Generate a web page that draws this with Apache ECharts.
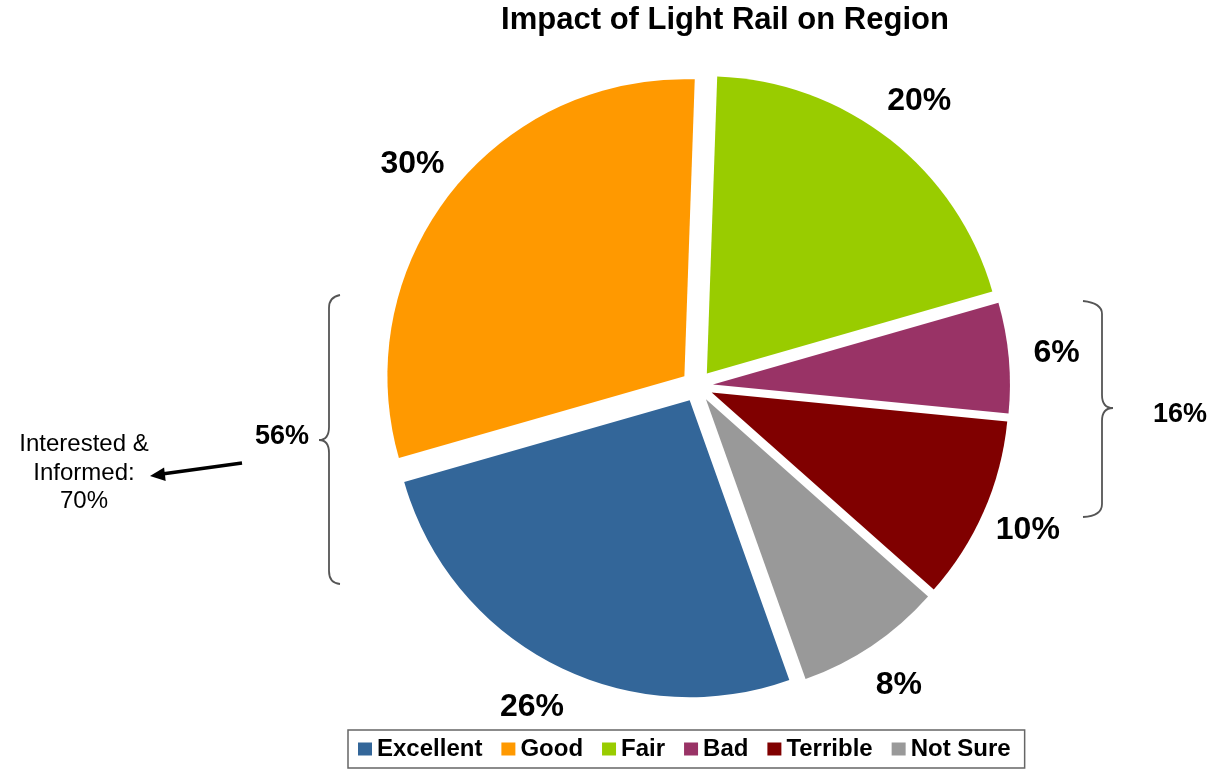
<!DOCTYPE html>
<html>
<head>
<meta charset="utf-8">
<script src="https://cdn.jsdelivr.net/npm/echarts@6/dist/echarts.min.js"></script>
<style>
  html, body { margin: 0; padding: 0; background: #fff; }
  #chart { width: 1218px; height: 770px; }
</style>
</head>
<body>
<div id="chart"></div>
<script>
// ---- data ----
const chartTitle = 'Impact of Light Rail on Region';
const categories = ['Excellent', 'Good', 'Fair', 'Bad', 'Terrible', 'Not Sure'];
const values = [26, 30, 20, 6, 10, 8];
const leftBraceLabel = '56%';
const rightBraceLabel = '16%';
const noteLabel = 'Interested &\nInformed:\n70%';

// ---- styles ----
const colors = ['#336699', '#FF9900', '#99CC00', '#993366', '#800000', '#999999'];
const FONT = "'Liberation Sans', Arial, Helvetica, sans-serif";
const braceColor = '#555555';

function brace(xEnd, xMid, xTip, yTop, yTip, yBot, r) {
  const st = { stroke: braceColor, lineWidth: 1.8, fill: null };
  return [
    { type: 'bezierCurve', shape: { x1: xEnd, y1: yTop, cpx1: xMid, cpy1: yTop + 2, x2: xMid, y2: yTop + r }, style: st },
    { type: 'line', shape: { x1: xMid, y1: yTop + r, x2: xMid, y2: yTip - r }, style: st },
    { type: 'bezierCurve', shape: { x1: xMid, y1: yTip - r, cpx1: xMid, cpy1: yTip, x2: xTip, y2: yTip }, style: st },
    { type: 'bezierCurve', shape: { x1: xTip, y1: yTip, cpx1: xMid, cpy1: yTip, x2: xMid, y2: yTip + r }, style: st },
    { type: 'line', shape: { x1: xMid, y1: yTip + r, x2: xMid, y2: yBot - r }, style: st },
    { type: 'bezierCurve', shape: { x1: xMid, y1: yBot - r, cpx1: xMid, cpy1: yBot - 1, x2: xEnd, y2: yBot }, style: st }
  ];
}

const chart = echarts.init(document.getElementById('chart'), null, { renderer: 'canvas' });

const option = {
  backgroundColor: '#ffffff',
  animation: false,
  title: {
    text: chartTitle,
    left: 720,
    textAlign: 'center',
    top: 0,
    textStyle: { fontFamily: FONT, fontSize: 31, fontWeight: 'bold', color: '#000' }
  },
  legend: {
    data: categories,
    left: 348,
    top: 730,
    orient: 'horizontal',
    icon: 'rect',
    itemWidth: 14,
    itemHeight: 13,
    itemGap: 19,
    selectedMode: false,
    padding: [7, 14, 7, 10],
    borderColor: '#666',
    borderWidth: 1.5,
    textStyle: { fontFamily: FONT, fontSize: 24, fontWeight: 'bold', color: '#000' }
  },
  series: [
    {
      type: 'pie',
      name: 'Impact',
      center: [697, 386],
      radius: 297,
      startAngle: 289.6,
      clockwise: true,
      selectedMode: 'multiple',
      selectedOffset: 16,
      avoidLabelOverlap: false,
      label: { show: false },
      labelLine: { show: false },
      emphasis: { disabled: true },
      itemStyle: { borderWidth: 0 },
      data: categories.map((n, i) => ({ name: n, value: values[i], selected: true, itemStyle: { color: colors[i] } }))
    },
    {
      type: 'pie',
      name: 'labels',
      center: [697, 386],
      radius: [330, 386],
      startAngle: 289.6,
      clockwise: true,
      silent: true,
      selectedMode: false,
      avoidLabelOverlap: false,
      emphasis: { disabled: true },
      itemStyle: { color: 'rgba(0,0,0,0)' },
      labelLine: { show: false },
      label: {
        show: true,
        position: 'inside',
        formatter: '{c}%',
        fontFamily: FONT,
        fontSize: 32,
        fontWeight: 'bold',
        color: '#000'
      },
      data: categories.map((n, i) => ({ name: n, value: values[i] }))
    }
  ],
  graphic: [
    ...brace(340, 329, 319, 295, 440, 584, 13),
    ...brace(1083, 1102, 1113, 301, 408, 517, 13),
    {
      type: 'text', x: 282, y: 437,
      style: { text: leftBraceLabel, fontFamily: FONT, fontSize: 27, fontWeight: 'bold', fill: '#000', align: 'center', verticalAlign: 'middle' }
    },
    {
      type: 'text', x: 1180, y: 415,
      style: { text: rightBraceLabel, fontFamily: FONT, fontSize: 27, fontWeight: 'bold', fill: '#000', align: 'center', verticalAlign: 'middle' }
    },
    {
      type: 'text', x: 84, y: 473,
      style: { text: noteLabel, fontFamily: FONT, fontSize: 24, lineHeight: 28.5, fill: '#000', align: 'center', verticalAlign: 'middle' }
    },
    {
      type: 'line', shape: { x1: 242, y1: 463, x2: 162, y2: 474 },
      style: { stroke: '#000', lineWidth: 3.5 }
    },
    {
      type: 'polygon', shape: { points: [[150, 476], [165.7, 481], [164.1, 467.5]] },
      style: { fill: '#000' }
    }
  ]
};

chart.setOption(option);
</script>
</body>
</html>
